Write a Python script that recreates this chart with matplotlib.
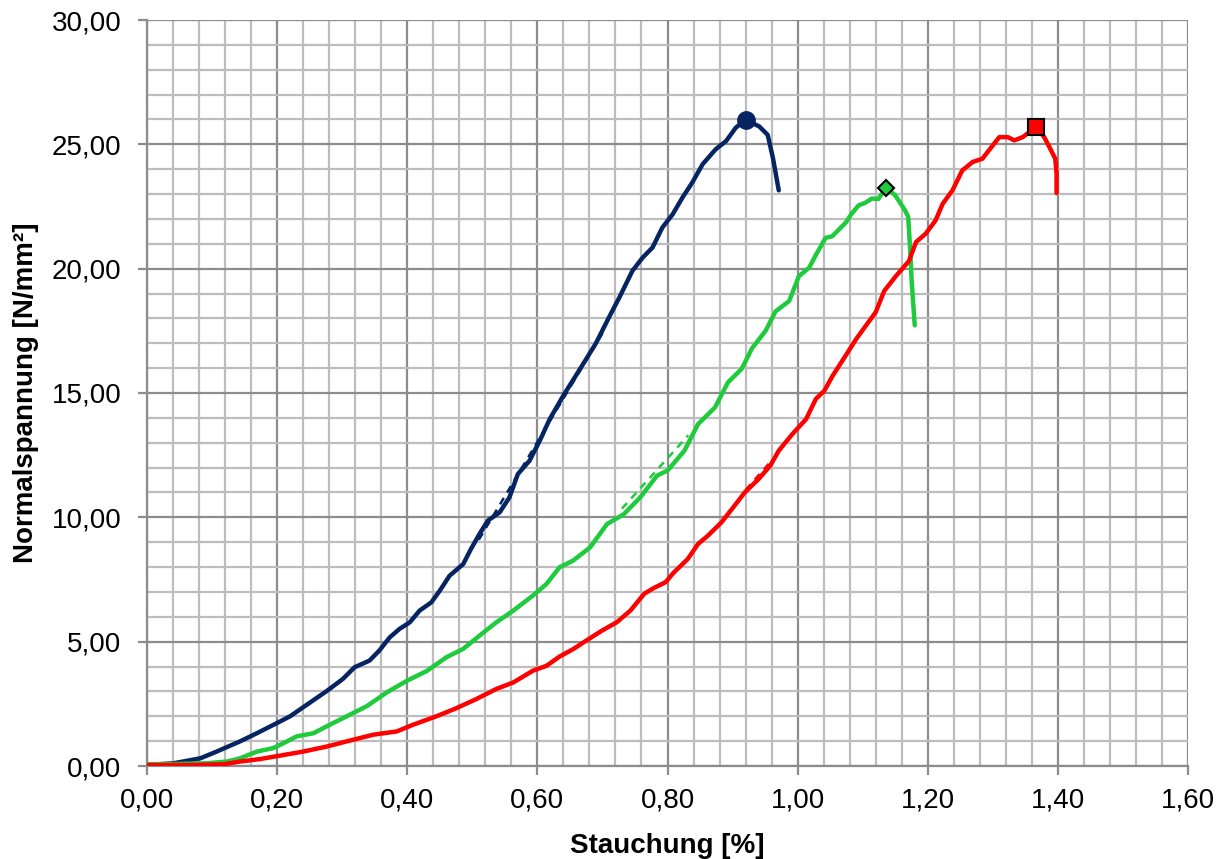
import matplotlib
matplotlib.use("Agg")
import matplotlib.pyplot as plt
from matplotlib.ticker import MultipleLocator, FuncFormatter

plt.rcParams['font.family'] = ['Liberation Sans', 'DejaVu Sans']

# Blue specimen (Stauchung [%], Normalspannung [N/mm²])
blue_x = [0.000, 0.041, 0.082, 0.107, 0.143, 0.169, 0.200, 0.220, 0.246, 0.276, 0.301, 0.319,
          0.342, 0.357, 0.373, 0.388, 0.404, 0.419, 0.437, 0.450, 0.465, 0.486, 0.498, 0.511,
          0.524, 0.542, 0.557, 0.570, 0.588, 0.604, 0.619, 0.640, 0.664, 0.690, 0.710, 0.726,
          0.746, 0.762, 0.777, 0.792, 0.808, 0.823, 0.838, 0.854, 0.874, 0.890, 0.905, 0.920,
          0.941, 0.954, 0.962, 0.971]
blue_y = [0.04, 0.11, 0.31, 0.58, 0.99, 1.32, 1.73, 2.00, 2.47, 3.01, 3.50, 3.97,
          4.24, 4.64, 5.17, 5.51, 5.78, 6.25, 6.58, 7.05, 7.65, 8.12, 8.73, 9.33,
          9.87, 10.20, 10.80, 11.74, 12.28, 13.10, 13.95, 14.90, 15.90, 17.00, 18.04, 18.84,
          19.91, 20.45, 20.85, 21.65, 22.19, 22.86, 23.46, 24.20, 24.80, 25.13, 25.67, 25.99,
          25.72, 25.38, 24.46, 23.15]

# Green specimen
green_x = [0.000, 0.041, 0.092, 0.123, 0.143, 0.169, 0.194, 0.210, 0.230, 0.256, 0.281, 0.307,
           0.338, 0.368, 0.399, 0.430, 0.460, 0.486, 0.511, 0.537, 0.563, 0.593, 0.614, 0.634,
           0.655, 0.681, 0.707, 0.733, 0.758, 0.784, 0.800, 0.826, 0.847, 0.873, 0.893, 0.914,
           0.930, 0.951, 0.966, 0.987, 1.002, 1.018, 1.028, 1.043, 1.053, 1.074, 1.083, 1.094,
           1.104, 1.114, 1.124, 1.136, 1.150, 1.165, 1.170, 1.173, 1.1755, 1.180]
green_y = [0.07, 0.08, 0.11, 0.18, 0.31, 0.58, 0.72, 0.92, 1.19, 1.32, 1.66, 2.00,
           2.41, 2.95, 3.42, 3.82, 4.37, 4.71, 5.24, 5.78, 6.25, 6.85, 7.32, 7.99,
           8.26, 8.79, 9.73, 10.13, 10.80, 11.68, 11.88, 12.68, 13.75, 14.42, 15.43, 15.97,
           16.80, 17.51, 18.28, 18.70, 19.70, 20.05, 20.55, 21.24, 21.30, 21.85, 22.21, 22.55,
           22.65, 22.82, 22.80, 23.26, 22.95, 22.35, 22.08, 20.74, 19.40, 17.72]

# Red specimen
red_x = [0.000, 0.067, 0.118, 0.143, 0.174, 0.205, 0.240, 0.276, 0.307, 0.348, 0.384, 0.409,
         0.445, 0.475, 0.506, 0.537, 0.563, 0.593, 0.614, 0.634, 0.655, 0.675, 0.699, 0.722,
         0.743, 0.764, 0.779, 0.797, 0.810, 0.831, 0.847, 0.862, 0.883, 0.901, 0.919, 0.940,
         0.958, 0.971, 0.992, 1.013, 1.028, 1.041, 1.054, 1.072, 1.090, 1.103, 1.120, 1.133,
         1.151, 1.171, 1.182, 1.197, 1.212, 1.223, 1.238, 1.253, 1.269, 1.284, 1.294, 1.310,
         1.323, 1.333, 1.346, 1.353, 1.367, 1.379, 1.387, 1.396, 1.398, 1.398]
red_y = [0.04, 0.04, 0.07, 0.18, 0.28, 0.42, 0.58, 0.78, 0.99, 1.26, 1.39, 1.66,
         2.00, 2.32, 2.69, 3.10, 3.36, 3.83, 4.03, 4.40, 4.70, 5.04, 5.44, 5.78,
         6.25, 6.92, 7.16, 7.39, 7.79, 8.32, 8.93, 9.26, 9.80, 10.40, 11.01, 11.54,
         12.08, 12.68, 13.35, 13.95, 14.76, 15.09, 15.70, 16.43, 17.17, 17.64, 18.25, 19.10,
         19.70, 20.30, 21.07, 21.41, 21.94, 22.61, 23.15, 23.95, 24.29, 24.42, 24.76, 25.29,
         25.29, 25.16, 25.29, 25.43, 25.70, 25.29, 24.89, 24.42, 23.82, 23.04]

# Peak markers
peak_x = [0.920, 1.136, 1.367]
peak_y = [25.99, 23.26, 25.70]

# Dashed regression segments
blue_fit_x = [0.51, 0.70]
blue_fit_y = [9.10, 17.40]
green_fit_x = [0.73, 0.832]
green_fit_y = [10.35, 13.30]
red_fit_x = [0.92, 0.958]
red_fit_y = [11.10, 12.22]

navy = '#062462'
green = '#1ecb3c'
red = '#ff0000'

fig = plt.figure(figsize=(12.26, 8.59), dpi=100)
ax = fig.add_axes([147/1226, 1 - 766/859, (1188-147)/1226, (766-20)/859])

dash = (0, (3, 2.5))
ax.plot(blue_fit_x, blue_fit_y, color=navy, lw=1.8, ls=dash, zorder=3)
ax.plot(green_fit_x, green_fit_y, color=green, lw=1.8, ls=dash, zorder=3)
ax.plot(red_fit_x, red_fit_y, color=red, lw=1.8, ls=dash, zorder=3)

ax.plot(blue_x, blue_y, color=navy, lw=3.2, zorder=4, solid_capstyle='round', solid_joinstyle='round')
ax.plot(green_x, green_y, color=green, lw=3.2, zorder=4, solid_capstyle='round', solid_joinstyle='round')
ax.plot(red_x, red_y, color=red, lw=3.2, zorder=4, solid_capstyle='round', solid_joinstyle='round')

ax.plot(peak_x[0], peak_y[0], marker='o', ms=12.5, color=navy, mec=navy, zorder=5)
ax.plot(peak_x[1], peak_y[1], marker='D', ms=8.5, color=green, mec='black', mew=1.5, zorder=5)
ax.plot(peak_x[2], peak_y[2], marker='s', ms=12, color=red, mec='black', mew=1.5, zorder=5)

ax.set_xlim(0, 1.6)
ax.set_ylim(0, 30)
ax.xaxis.set_major_locator(MultipleLocator(0.2))
ax.xaxis.set_minor_locator(MultipleLocator(0.04))
ax.yaxis.set_major_locator(MultipleLocator(5))
ax.yaxis.set_minor_locator(MultipleLocator(1))

fmt = FuncFormatter(lambda v, p: f"{v:.2f}".replace('.', ','))
ax.xaxis.set_major_formatter(fmt)
ax.yaxis.set_major_formatter(fmt)

ax.grid(which='minor', color='#bdbdbd', lw=1.6, zorder=0)
ax.grid(which='major', color='#8c8c8c', lw=1.6, zorder=1)
ax.set_axisbelow(True)

for s in ['top', 'right']:
    ax.spines[s].set_visible(False)
for s in ['left', 'bottom']:
    ax.spines[s].set_color('#8c8c8c')
    ax.spines[s].set_linewidth(1.6)

ax.tick_params(which='major', length=6.5, width=1.6, color='#8c8c8c', labelsize=20)
ax.tick_params(axis='y', pad=12)
ax.tick_params(axis='x', pad=9)
ax.tick_params(which='minor', length=0)

ax.set_xlabel('Stauchung [%]', fontsize=20, fontweight='bold', labelpad=14)
ax.set_ylabel('Normalspannung [N/mm²]', fontsize=20, fontweight='bold', labelpad=9)

fig.savefig('out.png', dpi=100)
